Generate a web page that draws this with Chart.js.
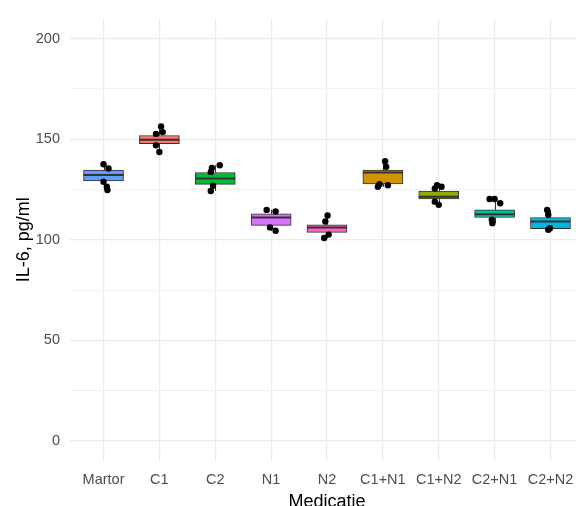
<!DOCTYPE html>
<html><head><meta charset="utf-8">
<script src="https://cdn.jsdelivr.net/npm/chart.js@4.4.1/dist/chart.umd.min.js"></script>
<style>
html,body{margin:0;padding:0;background:#fff;overflow:hidden;}
#wrap{width:576px;height:506px;overflow:hidden;position:relative;}
canvas{display:block;}
</style></head><body>
<div id="wrap"><canvas id="c" width="588" height="520"></canvas></div>
<script>
const categories = ['Martor','C1','C2','N1','N2','C1+N1','C1+N2','C2+N1','C2+N2'];
const boxColors = ['#619CFF','#F8766D','#00BA38','#DB72FB','#FF61C3','#D39200','#93AA00','#00C19F','#00B9E3'];
const q1     = [129.3,147.8,127.6,107.2,103.7,127.8,120.3,111.1,105.5];
const median = [132.2,149.8,130.5,111.1,106.2,133.5,121.5,112.7,109.1];
const q3     = [134.7,151.9,133.5,112.9,107.5,134.7,124.3,114.9,111.1];
// IL-6 per sample, grouped by treatment
const samples = [
  [137.6,135.5,128.9,126.4,124.8],
  [156.4,153.6,152.7,147.0,143.7],
  [137.1,135.8,133.8,126.9,124.3],
  [114.9,114.1,106.2,104.5],
  [112.1,109.1,102.6,100.9],
  [139.1,136.3,126.4,127.2,127.7],
  [127.2,126.4,125.6,117.4,119.0],
  [120.3,120.3,118.2,108.3,110.0],
  [114.9,112.5,105.0,105.8]
];
// horizontal jitter of each sample, in category widths
const jitter = [
  [0,0.09,0,0.06,0.07],
  [0.03,0.06,-0.06,-0.06,0],
  [0.08,-0.06,-0.08,-0.04,-0.08],
  [-0.08,0.08,-0.02,0.08],
  [0.01,-0.03,0.03,-0.05],
  [0.04,0.06,-0.09,0.09,-0.06],
  [-0.03,0.05,-0.07,0,-0.07],
  [-0.09,0,0.1,-0.04,-0.05],
  [-0.06,-0.04,-0.04,-0.01]
];
const yTicks = [0,25,50,75,100,125,150,175,200];
const yLabelStep = 50;

const FONT = "'Liberation Sans', Arial, sans-serif";

// whiskers under the boxes, medians on top of the box fill
const boxExtras = {
  id: 'boxExtras',
  beforeDatasetsDraw(chart) {
    const {ctx, scales: {x, y}} = chart;
    ctx.save();
    ctx.strokeStyle = '#333';
    ctx.lineWidth = 1;
    categories.forEach((c, i) => {
      const px = Math.round(x.getPixelForValue(i + 1)) + 0.5;
      const lo = Math.min(...samples[i]), hi = Math.max(...samples[i]);
      ctx.beginPath();
      ctx.moveTo(px, y.getPixelForValue(hi));
      ctx.lineTo(px, y.getPixelForValue(q3[i]));
      ctx.moveTo(px, y.getPixelForValue(q1[i]));
      ctx.lineTo(px, y.getPixelForValue(lo));
      ctx.stroke();
    });
    ctx.restore();
  },
  afterDatasetDraw(chart, args) {
    if (args.index !== 0) return;
    const {ctx, scales: {y}} = chart;
    ctx.save();
    ctx.strokeStyle = '#333';
    ctx.lineWidth = 2;
    chart.getDatasetMeta(0).data.forEach((bar, i) => {
      const py = y.getPixelForValue(median[i]);
      ctx.beginPath();
      ctx.moveTo(bar.x - bar.width / 2, py);
      ctx.lineTo(bar.x + bar.width / 2, py);
      ctx.stroke();
    });
    ctx.restore();
  }
};

const points = [];
samples.forEach((vals, i) => vals.forEach((v, j) => points.push({x: i + 1 + jitter[i][j], y: v})));

new Chart(document.getElementById('c'), {
  type: 'bar',
  data: {
    datasets: [
      {
        type: 'bar',
        data: categories.map((c, i) => ({x: i + 1, y: [q1[i], q3[i]]})),
        backgroundColor: boxColors,
        borderColor: '#333',
        borderWidth: 1,
        borderSkipped: false,
        barThickness: 40,
        order: 2
      },
      {
        type: 'scatter',
        data: points,
        backgroundColor: '#000',
        borderWidth: 0,
        pointRadius: 3.2,
        order: 1
      }
    ]
  },
  options: {
    responsive: false,
    animation: false,
    devicePixelRatio: 1,
    layout: {padding: 0},
    plugins: {legend: {display: false}, tooltip: {enabled: false}},
    scales: {
      x: {
        type: 'linear',
        offset: false,
        min: 0.4,
        max: 9.6,
        afterBuildTicks: s => { s.ticks = categories.map((c, i) => ({value: i + 1})); },
        afterFit: s => { s.height = 59; },
        ticks: {
          autoSkip: false, maxRotation: 0, padding: 10,
          color: '#4D4D4D', font: {family: FONT, size: 14.5},
          callback: v => categories[v - 1]
        },
        grid: {offset: false, color: '#EBEBEB', lineWidth: 1.2, drawTicks: false},
        border: {display: false},
        title: {display: true, text: 'Medicatie', color: '#000',
                font: {family: FONT, size: 18}, padding: {top: 0, bottom: 7}}
      },
      y: {
        min: -10,
        max: 210,
        afterBuildTicks: s => { s.ticks = yTicks.map(v => ({value: v})); },
        afterFit: s => { s.width = 70; },
        ticks: {
          padding: 10, color: '#4D4D4D', font: {family: FONT, size: 14.5},
          callback: v => (v % yLabelStep === 0 ? v : '')
        },
        grid: {
          color: c => (c.tick && c.tick.value % yLabelStep === 0 ? '#EBEBEB' : '#F2F2F2'),
          lineWidth: 1.2, drawTicks: false
        },
        border: {display: false},
        title: {display: true, text: 'IL-6, pg/ml', color: '#000',
                font: {family: FONT, size: 18}, padding: {top: 13, bottom: 0}}
      }
    }
  },
  plugins: [boxExtras]
});
</script>
</body></html>
